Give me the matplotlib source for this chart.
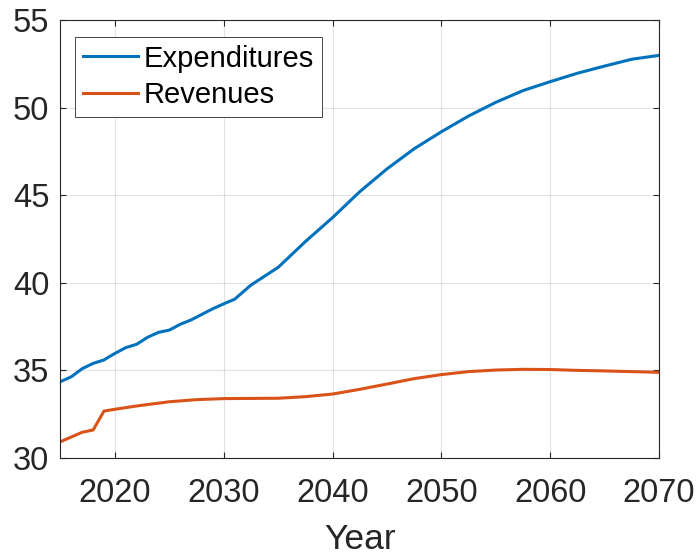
import numpy as np
import matplotlib
matplotlib.use("Agg")
import matplotlib.pyplot as plt

plt.rcParams['font.family'] = ['Liberation Sans', 'DejaVu Sans']

# values
exp_years = [2015, 2016, 2017, 2018, 2019, 2020, 2021, 2022, 2023, 2024,
             2025, 2026, 2027, 2028, 2029, 2030, 2031, 2032.5, 2035, 2037.5,
             2040, 2042.5, 2045, 2047.5, 2050, 2052.5, 2055, 2057.5, 2060,
             2062.5, 2065, 2067.5, 2070]
expenditures = [34.36, 34.64, 35.10, 35.40, 35.60, 35.97, 36.30, 36.49, 36.89, 37.17,
                37.30, 37.63, 37.88, 38.20, 38.52, 38.80, 39.06, 39.87, 40.88, 42.35,
                43.72, 45.20, 46.50, 47.65, 48.62, 49.52, 50.30, 50.97, 51.48,
                51.96, 52.37, 52.76, 52.98]

rev_years = [2015, 2016, 2017, 2018, 2019, 2020, 2022, 2025, 2027.5, 2030,
             2035, 2037.5, 2040, 2042.5, 2045, 2047.5, 2050, 2052.5, 2055,
             2057.5, 2060, 2062.5, 2065, 2067.5, 2070]
revenues = [30.93, 31.20, 31.47, 31.60, 32.68, 32.78, 32.97, 33.21, 33.33, 33.39,
            33.41, 33.50, 33.65, 33.92, 34.22, 34.53, 34.76, 34.93, 35.02,
            35.06, 35.05, 35.00, 34.97, 34.93, 34.89]

xticks = [2020, 2030, 2040, 2050, 2060, 2070]
yticks = [30, 35, 40, 45, 50, 55]

axcol = '#262626'

fig = plt.figure(figsize=(6.97, 5.52), dpi=100)
ax = fig.add_axes([0.0868, 0.1703, 0.9455 - 0.0868, 0.9638 - 0.1703])

ax.plot(exp_years, expenditures, color='#0072BD', lw=2.2, label='Expenditures')
ax.plot(rev_years, revenues, color='#D95319', lw=2.2, label='Revenues')

ax.set_xlim(2015, 2070)
ax.set_ylim(30, 55)
ax.set_xticks(xticks)
ax.set_yticks(yticks)
ax.grid(True, color=axcol, alpha=0.13, lw=0.8)
ax.set_axisbelow(True)

ax.tick_params(direction='in', length=4.5, width=0.8, colors=axcol,
               labelsize=23.5, top=True, right=True)
ax.tick_params(axis='x', pad=14.5)
ax.tick_params(axis='y', pad=8)
for sp in ax.spines.values():
    sp.set_color(axcol)
    sp.set_linewidth(0.8)

ax.set_xlabel('Year', fontsize=25.5, color=axcol, labelpad=10)

leg = ax.legend(loc='upper left', bbox_to_anchor=(0.025, 0.962), borderaxespad=0,
                fontsize=21, fancybox=False, framealpha=1, edgecolor=axcol,
                handlelength=1.86, handletextpad=0.2, borderpad=0.27,
                labelspacing=0.29)
leg.get_frame().set_linewidth(0.6)

plt.savefig('out.png', dpi=100)
